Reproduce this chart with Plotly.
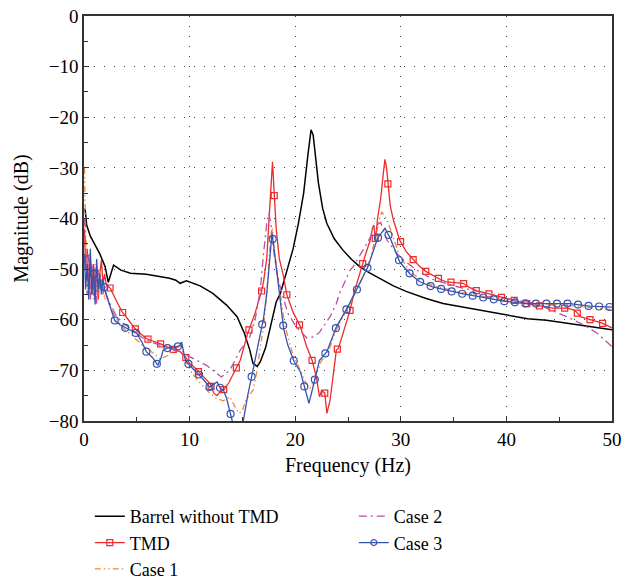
import numpy as np
import plotly.graph_objects as go

# Barrel without TMD
barrel_f = [0.1, 0.25, 0.6, 1.0, 1.5, 2.0, 2.3, 2.8, 3.5, 4.4, 5.9, 7.0, 8.1, 8.7, 9.1, 9.7, 10.3,
            11.0, 12.2, 13.5, 14.5, 15.2, 15.7, 16.0, 16.4, 16.7, 17.2, 17.6, 18.2, 18.6, 19.2, 19.8,
            20.3, 20.8, 21.2, 21.5, 21.7, 22.0, 22.2, 22.6, 23.0, 23.7, 24.5, 25.3, 26.1, 27.0, 28.0,
            29.3, 30.5, 32.4, 34.0, 35.6, 37.5, 39.0, 40.6, 42.0, 43.8, 45.5, 47.0, 48.5, 50.0]
barrel_db = [-38.0, -41.3, -43.5, -45.0, -47.0, -49.5, -52.6, -49.2, -50.2, -50.8, -51.0, -51.4, -51.8, -52.2,
             -52.8, -52.3, -52.8, -53.3, -54.8, -57.1, -59.4, -62.7, -66.0, -68.6, -69.2, -68.3, -65.5, -62.0,
             -56.5, -54.8, -50.5, -46.0, -41.0, -35.0, -27.5, -22.5, -23.5, -28.5, -33.0, -38.0, -41.0, -44.0,
             -46.2, -48.0, -49.5, -50.7, -51.8, -53.3, -54.4, -55.8, -56.8, -57.4, -58.1, -58.8, -59.4, -59.8,
             -60.1, -60.6, -61.1, -61.5, -62.0]

# TMD
tmd_f = [0.05, 0.15, 0.3, 0.45, 0.6, 0.75, 0.9, 1.05, 1.2, 1.35, 1.5, 1.65, 1.8, 1.95, 2.1, 2.5, 3.0, 3.6,
         4.2, 4.8, 5.4, 5.9, 6.5, 7.2, 8.1, 9.1, 9.5, 10.0, 10.5, 11.0, 11.5, 11.9, 12.3, 12.6, 12.9, 13.2,
         13.7, 14.3, 14.8, 15.5, 16.2, 16.8, 17.0, 17.3, 17.5, 17.7, 17.85, 18.0, 18.2, 18.5, 18.9, 19.2,
         19.8, 20.5, 21.1, 21.6, 22.0, 22.3, 22.5, 22.8, 23.0, 23.3, 23.6, 23.9, 24.1, 24.6, 25.2, 25.6,
         26.1, 26.6, 27.1, 27.3, 27.45, 27.6, 27.8, 28.1, 28.35, 28.5, 28.65, 28.8, 29.0, 29.3, 29.9,
         30.5, 31.2, 31.8, 32.4, 33.0, 33.7, 34.3, 35.0, 35.9, 36.5, 37.2, 38.2, 39.4, 40.6, 41.9, 43.0,
         44.4, 45.7, 46.3, 46.6, 47.0, 47.6, 48.2, 49.0, 49.8, 50.0]
tmd_db = [-42.0, -50.0, -46.0, -54.0, -48.0, -55.0, -49.0, -53.0, -50.0, -56.0, -51.0, -48.2, -53.0, -51.0,
          -53.0, -53.8, -56.0, -58.4, -60.0, -61.7, -62.8, -63.7, -64.2, -64.7, -65.6, -66.3, -67.0, -68.6,
          -69.5, -70.6, -71.8, -72.5, -74.5, -75.0, -74.2, -73.9, -72.5, -70.0, -68.0, -62.7, -58.7, -54.5,
          -52.5, -48.0, -42.0, -34.0, -28.8, -35.0, -42.0, -48.0, -51.5, -55.0, -58.5, -61.4, -65.4, -68.0,
          -71.3, -75.2, -74.0, -74.5, -78.5, -75.9, -70.5, -66.0, -65.6, -62.0, -58.1, -54.5, -50.8, -47.5,
          -44.3, -42.0, -41.3, -44.3, -40.0, -36.0, -31.0, -28.3, -30.0, -33.7, -37.5, -40.3, -44.3, -46.5,
          -48.2, -49.5, -50.5, -51.2, -52.0, -52.5, -52.6, -52.8, -53.6, -54.3, -54.8, -55.5, -56.1, -56.8,
          -57.2, -57.7, -57.7, -58.0, -58.4, -59.4, -59.8, -60.1, -60.6, -61.4, -61.6]

# Case 1
case1_f = [0.05, 0.15, 0.3, 0.45, 0.6, 0.75, 0.9, 1.05, 1.2, 1.35, 1.5, 1.65, 1.8, 1.95, 2.1, 2.5, 3.0, 3.6,
           4.5, 5.5, 6.5, 7.2, 8.0, 8.7, 9.2, 9.6, 10.2, 11.0, 11.9, 12.5, 13.2, 13.8, 14.3, 14.7, 15.0,
           15.3, 16.0, 16.4, 16.7, 17.0, 17.3, 17.5, 17.7, 17.85, 18.0, 18.4, 19.0, 19.8, 20.5, 21.0, 21.4,
           21.8, 22.5, 23.0, 23.9, 25.0, 26.0, 27.0, 27.6, 28.0, 28.2, 28.5, 29.0, 29.9, 30.9, 31.8, 33.0,
           35.0, 37.8, 39.7, 41.9, 44.0, 46.0, 48.0, 50.0]
case1_db = [-30.0, -42.0, -50.0, -47.0, -55.0, -50.0, -56.0, -49.0, -53.0, -55.0, -50.0, -54.0, -52.0, -56.0,
            -55.0, -57.5, -59.5, -61.5, -63.0, -65.0, -66.5, -67.8, -67.0, -65.5, -65.2, -68.0, -70.5, -72.5,
            -74.5, -75.5, -76.0, -75.2, -77.2, -78.5, -78.0, -76.0, -73.9, -70.0, -65.4, -61.4, -55.0, -48.0,
            -43.0, -42.0, -46.0, -52.0, -61.0, -67.0, -70.0, -72.5, -73.5, -72.0, -68.0, -67.0, -62.0, -57.5,
            -53.5, -48.5, -44.0, -40.0, -38.7, -39.5, -42.0, -47.5, -50.5, -52.0, -53.2, -54.3, -55.4, -56.1,
            -56.8, -57.0, -57.2, -57.6, -58.0]

# Case 2
case2_f = [0.05, 0.15, 0.3, 0.45, 0.6, 0.75, 0.9, 1.05, 1.2, 1.35, 1.5, 1.65, 1.8, 1.95, 2.1, 2.5, 3.0, 3.6,
           4.5, 5.5, 6.5, 7.5, 8.5, 10.0, 11.6, 13.0, 13.8, 14.8, 15.7, 16.2, 16.7, 17.0, 17.3, 17.5, 17.7,
           18.0, 18.4, 19.3, 20.1, 21.1, 21.7, 22.3, 23.3, 23.9, 24.2, 25.2, 25.5, 26.8, 27.7, 28.1, 28.7,
           29.9, 31.5, 33.0, 35.0, 37.5, 40.6, 42.9, 43.8, 45.7, 47.3, 48.5, 49.8, 50.0]
case2_db = [-40.0, -48.0, -55.0, -47.0, -56.0, -49.0, -55.0, -51.0, -57.0, -50.0, -54.0, -52.0, -55.0, -53.0,
            -55.0, -57.0, -59.0, -60.5, -62.0, -63.5, -64.5, -65.2, -66.0, -67.3, -69.0, -71.3, -70.0, -66.0,
            -63.4, -60.0, -54.0, -47.0, -41.0, -39.0, -41.0, -47.0, -52.2, -58.7, -61.4, -63.6, -63.4, -62.5,
            -59.4, -56.8, -54.8, -50.2, -49.5, -44.9, -41.3, -40.8, -44.3, -47.6, -50.2, -52.0, -53.3, -54.5,
            -56.1, -56.8, -57.7, -59.4, -61.0, -62.5, -65.0, -65.3]

# Case 3
case3_f = [0.05, 0.15, 0.3, 0.45, 0.6, 0.75, 0.9, 1.05, 1.2, 1.35, 1.5, 1.65, 1.8, 1.95, 2.1, 2.5, 2.9, 3.4,
           4.0, 5.0, 5.5, 5.9, 6.5, 7.0, 7.3, 7.5, 8.1, 8.6, 9.1, 9.25, 9.4, 9.6, 10.0, 10.4, 10.8, 11.3,
           11.9, 12.3, 12.6, 12.9, 13.2, 13.5, 13.8, 14.1, 14.5, 14.9, 15.1, 15.5, 16.0, 16.5, 17.0, 17.3,
           17.55, 17.8, 18.0, 18.4, 18.9, 19.3, 19.9, 20.5, 20.9, 21.3, 21.6, 22.0, 22.3, 23.0, 23.9, 25.0,
           25.9, 26.9, 27.8, 28.5, 29.0, 29.9, 30.9, 31.8, 33.0, 34.0, 35.0, 35.9, 37.8, 39.7, 41.9, 43.8,
           46.0, 47.9, 50.0]
case3_db = [-47.0, -54.0, -49.0, -56.0, -46.0, -55.0, -50.0, -57.0, -48.0, -54.0, -51.0, -55.0, -52.0, -54.0,
            -55.0, -57.5, -60.1, -61.0, -61.7, -62.7, -64.5, -66.3, -67.5, -69.0, -67.5, -66.0, -65.4, -65.6,
            -65.0, -64.4, -66.0, -68.0, -69.0, -69.8, -70.6, -71.8, -73.3, -72.8, -72.3, -73.5, -73.9, -75.5,
            -77.9, -80.5, -82.0, -81.0, -79.8, -75.0, -70.0, -64.5, -59.7, -55.0, -49.0, -43.0, -46.0, -53.5,
            -61.7, -65.0, -68.3, -70.3, -73.5, -76.5, -74.0, -70.6, -68.0, -66.3, -61.4, -57.4, -53.8, -49.5,
            -43.9, -41.9, -43.9, -48.6, -51.0, -52.5, -53.5, -54.0, -54.5, -54.9, -55.6, -56.3, -56.8, -56.8,
            -56.8, -57.3, -57.5]

# marker spacing along the TMD / Case 3 curves (Hz)
tmd_marks = np.arange(1.27, 50.0, 1.196)
case3_marks = np.arange(0.92, 50.0, 0.997)

serif = "Liberation Serif"
red = "#EE2A2A"
blue = "#3553AE"
orange = "#F08838"
magenta = "#BB4FA6"

fig = go.Figure()

fig.add_trace(go.Scatter(x=barrel_f, y=barrel_db, mode="lines", name="Barrel without TMD",
                         line=dict(color="black", width=1.5)))

fig.add_trace(go.Scatter(x=tmd_f, y=tmd_db, mode="lines", showlegend=False,
                         line=dict(color=red, width=1.3)))
fig.add_trace(go.Scatter(x=tmd_marks, y=np.interp(tmd_marks, tmd_f, tmd_db), mode="markers",
                         showlegend=False,
                         marker=dict(symbol="square-open", size=6, color=red, line=dict(width=1.2))))
fig.add_trace(go.Scatter(x=[None], y=[None], mode="lines+markers", name="TMD",
                         line=dict(color=red, width=1.3),
                         marker=dict(symbol="square-open", size=6, color=red, line=dict(width=1.2))))

fig.add_trace(go.Scatter(x=case1_f, y=case1_db, mode="lines", name="Case 1",
                         line=dict(color=orange, width=1.3, dash="6px,3px,1.5px,3px,1.5px,3px")))

fig.add_trace(go.Scatter(x=case2_f, y=case2_db, mode="lines", name="Case 2", legend="legend2",
                         line=dict(color=magenta, width=1.3, dash="8px,4px,2px,4px")))

fig.add_trace(go.Scatter(x=case3_f, y=case3_db, mode="lines", showlegend=False,
                         line=dict(color=blue, width=1.3)))
fig.add_trace(go.Scatter(x=case3_marks, y=np.interp(case3_marks, case3_f, case3_db), mode="markers",
                         showlegend=False,
                         marker=dict(symbol="circle-open", size=7, color=blue, line=dict(width=1.2))))
fig.add_trace(go.Scatter(x=[None], y=[None], mode="lines+markers", name="Case 3", legend="legend2",
                         line=dict(color=blue, width=1.3),
                         marker=dict(symbol="circle-open", size=6, color=blue, line=dict(width=1.2))))

axis_style = dict(
    showline=True, mirror=True, linecolor="#333333", linewidth=1.5,
    ticks="inside", ticklen=5, tickcolor="#333333",
    showgrid=True, gridcolor="#444444", gridwidth=1, griddash="1px,9px",
    zeroline=False, automargin=False, ticklabeloverflow="allow",
    tickfont=dict(family=serif, size=19, color="black"),
    title_font=dict(family=serif, size=20, color="black"),
)

fig.update_xaxes(axis_style, range=[0, 50], dtick=10, title_text="Frequency (Hz)", title_standoff=9,
                 minor=dict(dtick=5, ticks="inside", ticklen=4, tickcolor="#333333", showgrid=False))
fig.update_yaxes(axis_style, range=[-80, 0], dtick=10, title_text="Magnitude (dB)", title_standoff=15,
                 minor=dict(dtick=5, ticks="inside", ticklen=4, tickcolor="#333333", showgrid=False))

legend_style = dict(font=dict(family=serif, size=18, color="black"), bgcolor="rgba(0,0,0,0)",
                    yanchor="top", xanchor="left", tracegroupgap=0, itemwidth=30)

fig.update_layout(
    width=625, height=579,
    margin=dict(l=84, r=13, t=16, b=158, autoexpand=False),
    plot_bgcolor="white", paper_bgcolor="white",
    legend=dict(legend_style, x=0.011, y=-0.19),
    legend2=dict(legend_style, x=0.511, y=-0.19),
)

# drop the default 8px page margin so the figure fills the window exactly
fig.write_html("out.html", config={"displayModeBar": False},
               post_script="document.body.style.margin = '0';")
